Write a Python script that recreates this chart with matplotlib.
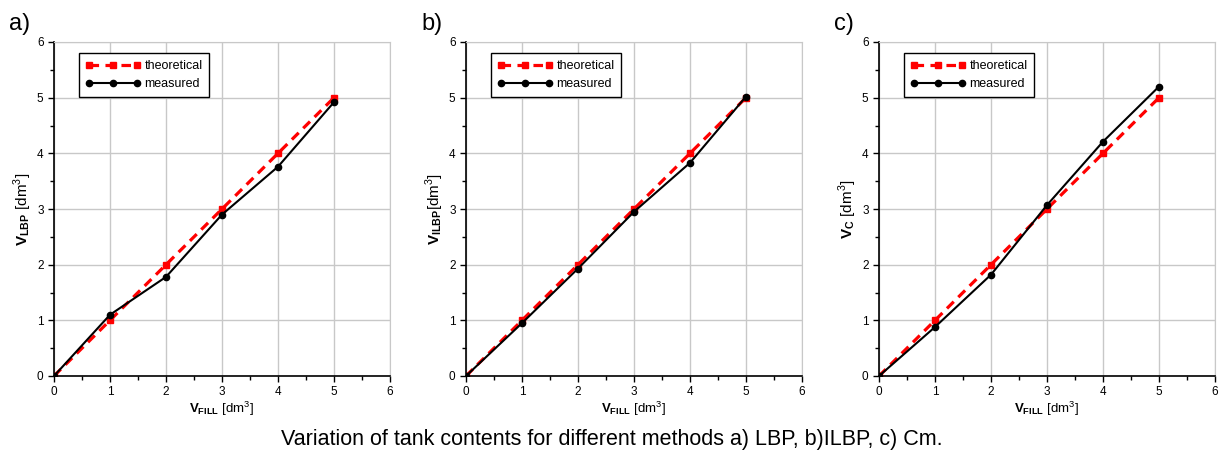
import numpy as np
import matplotlib.pyplot as plt

plt.rcParams['font.family'] = ['Liberation Sans', 'DejaVu Sans']
plt.rcParams['mathtext.fontset'] = 'custom'
plt.rcParams['mathtext.rm'] = 'Liberation Sans'
plt.rcParams['mathtext.bf'] = 'Liberation Sans:bold'

# data
v_fill = [0, 1, 2, 3, 4, 5]
theoretical = [0, 1, 2, 3, 4, 5]
measured_lbp = [0, 1.10, 1.78, 2.90, 3.76, 4.92]
measured_ilbp = [0, 0.95, 1.93, 2.95, 3.83, 5.02]
measured_cm = [0, 0.88, 1.82, 3.07, 4.21, 5.20]

panels = ['a)', 'b)', 'c)']
ylabels = [r'$\mathbf{V_{LBP}}$ [dm$^3$]', r'$\mathbf{V_{ILBP}}$[dm$^3$]', r'$\mathbf{V_{C}}$ [dm$^3$]']
measured_sets = [measured_lbp, measured_ilbp, measured_cm]

fig = plt.figure(figsize=(12.23, 4.59), dpi=100)
W, H = 1223, 459
lefts = [54, 466, 879]
for i in range(3):
    ax = fig.add_axes([lefts[i] / W, (H - 376) / H, 336 / W, 334 / H])
    ax.plot(v_fill, theoretical, color='red', linestyle=(0, (3, 2)), linewidth=2.3,
            marker='s', markersize=5, label='theoretical', zorder=3)
    ax.plot(v_fill, measured_sets[i], color='black', linewidth=1.5,
            marker='o', markersize=4.5, label='measured', zorder=4)
    ax.set_xlim(0, 6)
    ax.set_ylim(0, 6)
    ax.set_xticks(range(7))
    ax.set_yticks(range(7))
    ax.set_xticks(np.arange(0.5, 6, 1), minor=True)
    ax.set_yticks(np.arange(0.5, 6, 1), minor=True)
    ax.grid(True, color='#c8c8c8', linewidth=1)
    ax.tick_params(labelsize=8.5, direction='out', length=4, width=1)
    ax.tick_params(which='minor', length=3, width=1)
    for s in ['top', 'right']:
        ax.spines[s].set_color('#c8c8c8')
    for s in ['left', 'bottom']:
        ax.spines[s].set_linewidth(1.2)
    ax.set_xlabel(r'$\mathbf{V_{FILL}}$ [dm$^3$]', fontsize=9.5, labelpad=1)
    ax.set_ylabel(ylabels[i], fontsize=11, labelpad=2)
    leg = ax.legend(loc='upper left', bbox_to_anchor=(0.055, 0.985), fontsize=9,
                    fancybox=False, framealpha=1, edgecolor='black', numpoints=3,
                    handlelength=4.4, handletextpad=0.3, borderpad=0.55, labelspacing=0.5)
    leg.get_frame().set_linewidth(1)
    fig.text((lefts[i] - 45) / W, 1 - 30 / H, panels[i], fontsize=17)

fig.text(0.5, 1 - 445 / H, 'Variation of tank contents for different methods a) LBP, b)ILBP, c) Cm.',
         ha='center', fontsize=15.5)

plt.savefig('out.png', dpi=100)
